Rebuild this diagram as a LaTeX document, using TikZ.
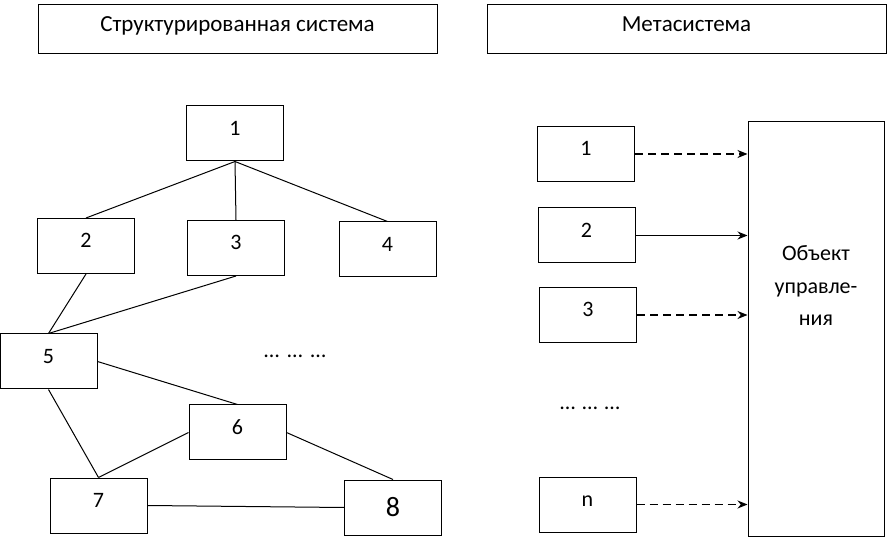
\documentclass[tikz,border=0pt]{standalone}
\usepackage{fontspec}
\setmainfont{Carlito}
\usetikzlibrary{arrows.meta}
\begin{document}
\begin{tikzpicture}[x=1pt,y=-1pt,>={Stealth[length=10pt,width=8pt]},
    font=\fontsize{22}{32.5}\selectfont,
    box/.style={draw,line width=1pt,inner sep=0pt,minimum width=97pt,minimum height=55pt,
        text height=8pt,text depth=4pt},
    titlebox/.style={draw,line width=1pt,inner sep=0pt,minimum width=399pt,minimum height=49pt,
        font=\fontsize{23}{28}\selectfont,text height=10pt,text depth=5pt},
    link/.style={line width=1pt},
    dashlink/.style={line width=1.2pt,dash pattern=on 8pt off 5pt,->}]
    \useasboundingbox (0,0) rectangle (887,537);
    % titles
    \node[titlebox] (tleft) at (237.5,29.5) {Структурированная система};
    \node[titlebox] (tright) at (686.5,29.5) {Метасистема};
    % structured system
    \node[box] (b1) at (235,133.5) {1};
    \node[box] (b2) at (86,246) {2};
    \node[box] (b3) at (236,248) {3};
    \node[box] (b4) at (387.5,249.5) {4};
    \node[box] (b5) at (48.5,361.5) {5};
    \node[box] (b6) at (237.5,432.5) {6};
    \node[box] (b7) at (98.5,505.5) {7};
    \node[box,font=\fontsize{28}{34}\selectfont,text height=17pt,text depth=0pt] (b8) at (393,507.5) {8};
    \node (ldots) at (295,356) {…\hspace{8pt}…\hspace{8pt}…};
    \draw[link] (b1.south)--(b2.north);
    \draw[link] (b1.south)--(b3.north);
    \draw[link] (b1.south)--(b4.north);
    \draw[link] (b2.south)--(b5.north);
    \draw[link] (b3.south)--(b5.north);
    \draw[link] (b5.east)--(b6.north);
    \draw[link] (b5.south)--(b7.north);
    \draw[link] (b6.west)--(b7.north);
    \draw[link] (b6.east)--(b8.north);
    \draw[link] (b7.east)--(b8.west);
    % metasystem
    \node[box] (r1) at (586,154) {1};
    \node[box] (r2) at (586.5,235.5) {2};
    \node[box] (r3) at (588,315) {3};
    \node[box] (rn) at (587.5,504.5) {n};
    \node (rdots) at (590,408) {…\hspace{7pt}…\hspace{7pt}…};
    \node[draw,line width=1pt,minimum width=136pt,minimum height=414pt] (obj) at (816,329) {};
    \node[align=center] (objtext) at (816,286) {Объект\\управле-\\ния};
    \draw[dashlink] (r1.east)--(r1.east -| obj.west);
    \draw[link,->] (r2.east)--(r2.east -| obj.west);
    \draw[dashlink] (r3.east)--(r3.east -| obj.west);
    \draw[dashlink] (rn.east)--(rn.east -| obj.west);
\end{tikzpicture}
\end{document}
